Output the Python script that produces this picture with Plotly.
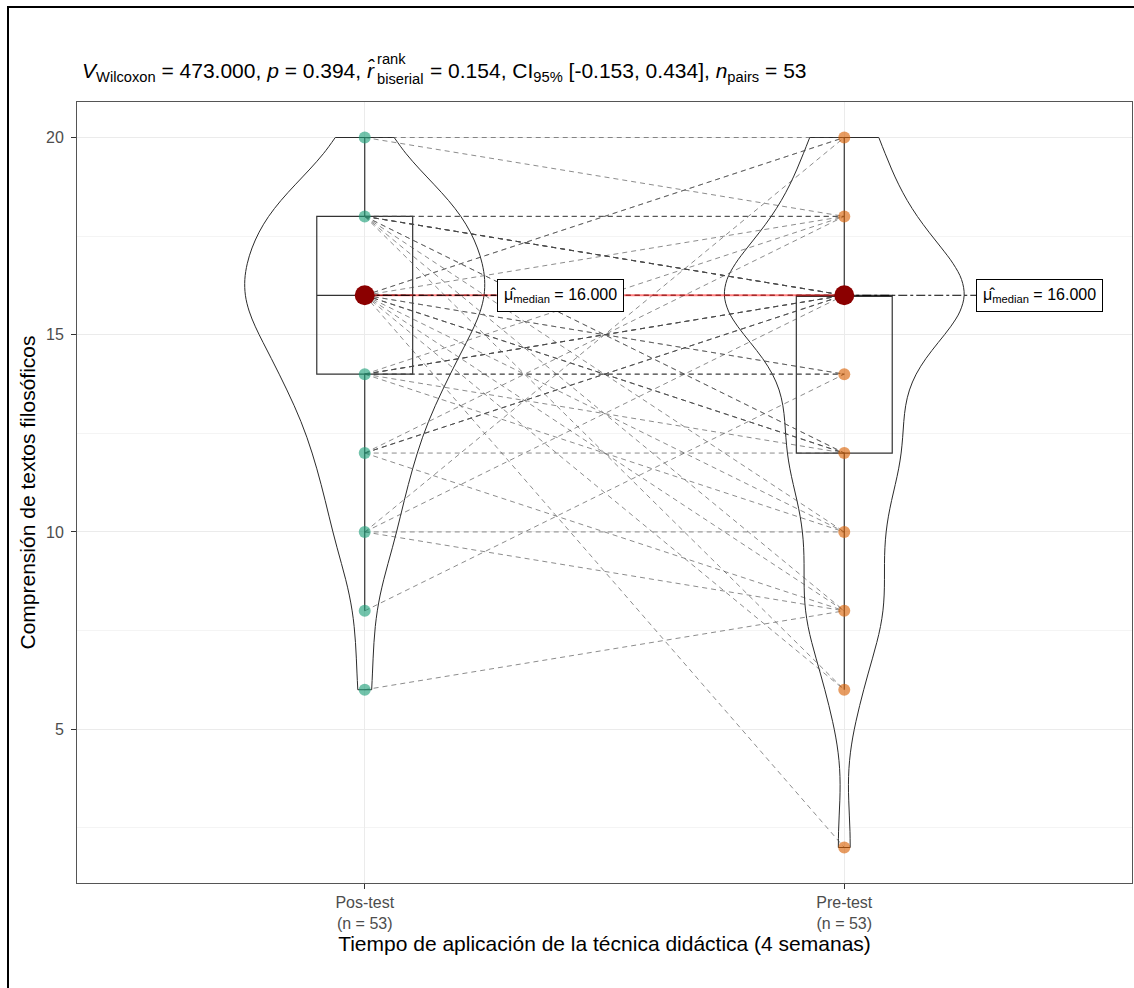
import numpy as np
import plotly.graph_objects as go

# ---------------- data ----------------
groups = ["Pos-test", "Pre-test"]
group_ticktext = ["Pos-test<br>(n = 53)", "Pre-test<br>(n = 53)"]

# paired scores per student (same index = same student)
pos_test = [20, 18, 18, 18, 16, 16, 16, 16, 14, 14, 14, 12, 10,
            6, 8, 10, 10, 10, 12, 12, 12, 12, 12,
            14, 14, 14, 14, 14, 14, 14,
            16, 16, 16, 16, 16, 16, 16, 16, 16, 16, 16, 16,
            18, 18, 18, 18, 18, 18, 18, 18, 18, 18,
            20]
pre_test = [20, 18, 18, 18, 16, 16, 16, 16, 14, 14, 14, 12, 10,
            8, 14, 8, 20, 16, 16, 18, 16, 16, 8,
            18, 16, 16, 16, 16, 12, 10,
            2, 6, 8, 10, 12, 12, 12, 14, 14, 18, 20, 20,
            16, 16, 16, 16, 16, 12, 12, 10, 8, 6,
            18]

medians = [16.0, 16.0]
median_labels = ["16.000", "16.000"]

y_ticks = [5, 10, 15, 20]
y_minor = [2.5, 7.5, 12.5, 17.5]

subtitle_a = "<i>V</i><sub>Wilcoxon</sub> = 473.000, <i>p</i> = 0.394, <i>r\u0302</i>"
subtitle_sup = "rank"
subtitle_sub = "biserial"
subtitle_c = ("= 0.154, CI<sub>95%</sub> [-0.153, 0.434], "
              "<i>n</i><sub>pairs</sub> = 53")
x_title = "Tiempo de aplicación de la técnica didáctica (4 semanas)"
y_title = "Comprensión de textos filosóficos"

colors = ["#1B9E77", "#D95F02"]

# ---------------- helpers ----------------
def bw_nrd0(v):
    v = np.asarray(v, float)
    sd = v.std(ddof=1)
    iqr = np.percentile(v, 75) - np.percentile(v, 25)
    lo = min(sd, iqr / 1.34)
    return 0.9 * lo * len(v) ** (-0.2)

FONT = "Liberation Sans, Arial, sans-serif"
series = [pos_test, pre_test]
xpos = [1, 2]

# plot-area geometry in pixels (for placing header text)
PL, PR, PT, PB = 77, 1132, 102, 883
def px_x(px):
    return (px - PL) / (PR - PL)
def px_y(py):
    return (PB - py) / (PB - PT)

fig = go.Figure()

# paired dashed lines
for a, b in zip(pos_test, pre_test):
    fig.add_trace(go.Scatter(x=xpos, y=[a, b], mode="lines",
                             line=dict(color="rgba(70,70,70,0.62)", width=1, dash="5px,4px"),
                             hoverinfo="skip"))

# points (one marker per observed value)
for i, vals in enumerate(series):
    uniq = sorted(set(vals))
    fig.add_trace(go.Scatter(x=[xpos[i]] * len(uniq), y=uniq, mode="markers",
                             marker=dict(color=colors[i], size=12, opacity=0.62, line=dict(width=0)),
                             hoverinfo="skip"))

# boxplots
for i, vals in enumerate(series):
    fig.add_trace(go.Box(x=[xpos[i]] * len(vals), y=vals, width=0.2, quartilemethod="inclusive",
                         boxpoints="outliers", whiskerwidth=0,
                         marker=dict(opacity=0, size=1),
                         line=dict(color="#333333", width=1.2),
                         fillcolor="rgba(255,255,255,0)", hoverinfo="skip"))

# violins
for i, vals in enumerate(series):
    fig.add_trace(go.Violin(x=[xpos[i]] * len(vals), y=vals, width=0.5,
                            scalegroup="all", scalemode="width", spanmode="hard",
                            bandwidth=bw_nrd0(vals), points=False,
                            box_visible=False, meanline_visible=False,
                            line=dict(color="#2b2b2b", width=1),
                            fillcolor="rgba(255,255,255,0)", hoverinfo="skip"))

# centrality path
fig.add_trace(go.Scatter(x=xpos, y=medians, mode="lines",
                         line=dict(color="rgba(255,0,0,0.5)", width=2), hoverinfo="skip"))

# label connectors
label_dx = 0.275
for i in range(2):
    fig.add_trace(go.Scatter(x=[xpos[i], xpos[i] + label_dx], y=[medians[i]] * 2, mode="lines",
                             line=dict(color="black", width=1, dash="dashdot"), hoverinfo="skip"))

# median points
fig.add_trace(go.Scatter(x=xpos, y=medians, mode="markers",
                         marker=dict(color="#8B0000", size=20), hoverinfo="skip"))

# labels
for i in range(2):
    fig.add_annotation(x=xpos[i] + label_dx, y=medians[i], xref="x", yref="y",
                       text="\u03bc\u0302<sub>median</sub> = " + median_labels[i],
                       showarrow=False, xanchor="left", yanchor="middle",
                       font=dict(family=FONT, size=16, color="black"),
                       bgcolor="white", bordercolor="black", borderwidth=1, borderpad=6)

# subtitle (split so that "rank" / "biserial" stack like plotmath)
fig.add_annotation(x=px_x(80), y=px_y(72), xref="paper", yref="paper", text=subtitle_a,
                   showarrow=False, xanchor="left", yanchor="middle",
                   font=dict(family=FONT, size=21, color="black"))
fig.add_annotation(x=px_x(375), y=px_y(59), xref="paper", yref="paper", text=subtitle_sup,
                   showarrow=False, xanchor="left", yanchor="middle",
                   font=dict(family=FONT, size=14.7, color="black"))
fig.add_annotation(x=px_x(375), y=px_y(79), xref="paper", yref="paper", text=subtitle_sub,
                   showarrow=False, xanchor="left", yanchor="middle",
                   font=dict(family=FONT, size=14.7, color="black"))
fig.add_annotation(x=px_x(428), y=px_y(72), xref="paper", yref="paper", text=subtitle_c,
                   showarrow=False, xanchor="left", yanchor="middle",
                   font=dict(family=FONT, size=21, color="black"))

# outer frame
fig.add_shape(type="rect", xref="paper", yref="paper",
              x0=px_x(8), x1=px_x(1145), y0=px_y(1000), y1=px_y(7),
              line=dict(color="black", width=2))

fig.update_layout(
    width=1134, height=988,
    margin=dict(l=PL, r=1134 - PR, t=PT, b=988 - PB),
    plot_bgcolor="white", paper_bgcolor="white",
    showlegend=False, violinmode="overlay", boxmode="overlay",
    font=dict(family=FONT, color="black"),
    xaxis=dict(range=[0.4, 2.6], tickvals=xpos, ticktext=group_ticktext,
               showgrid=True, gridcolor="#EBEBEB", gridwidth=1, zeroline=False,
               ticks="outside", ticklen=5, tickcolor="#333333",
               tickfont=dict(family=FONT, size=16, color="#4D4D4D"),
               showline=True, linecolor="#555555", linewidth=1, mirror=True,
               title=dict(text=x_title, font=dict(family=FONT, size=21, color="black"), standoff=4)),
    yaxis=dict(range=[1.1, 20.9], tickvals=y_ticks,
               showgrid=True, gridcolor="#EBEBEB", gridwidth=1, zeroline=False,
               minor=dict(tickvals=y_minor, showgrid=True, gridcolor="#F4F4F4", ticks=""),
               ticks="outside", ticklen=5, tickcolor="#333333", ticklabelstandoff=4,
               tickfont=dict(family=FONT, size=16, color="#4D4D4D"),
               showline=True, linecolor="#555555", linewidth=1, mirror=True,
               title=dict(text=y_title, font=dict(family=FONT, size=21, color="black"), standoff=4)),
)

fig.write_html("out.html", config={"displayModeBar": False},
               post_script="document.body.style.margin='0';document.body.style.overflow='hidden';")
